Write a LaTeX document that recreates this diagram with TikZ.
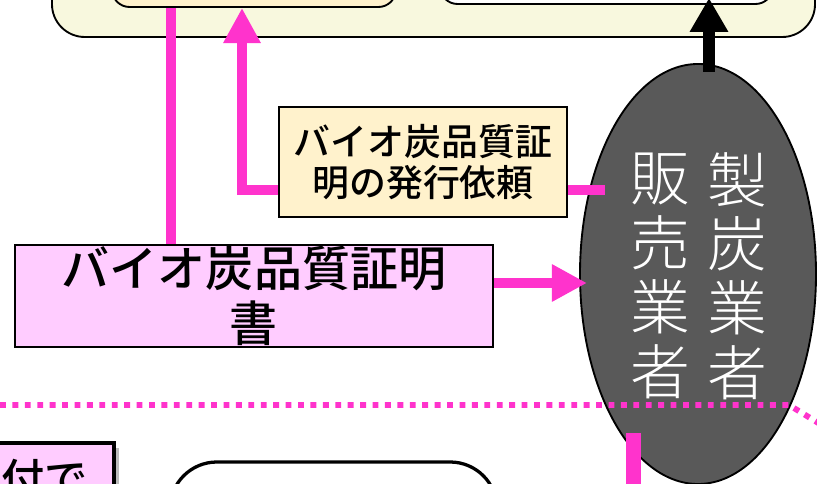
\documentclass[tikz,border=0pt]{standalone}
\usepackage{fontspec}
\setmainfont{Noto Sans CJK JP}
\IfFontExistsTF{Noto Sans CJK JP Medium}{\newfontfamily\medfont{Noto Sans CJK JP Medium}}{\newcommand\medfont{\bfseries}}
\IfFontExistsTF{Noto Sans CJK JP Light}{\newfontfamily\lightfont{Noto Sans CJK JP Light}}{\newcommand\lightfont{}}
\usetikzlibrary{arrows.meta,shapes.geometric,shadows}
\definecolor{pinkc}{RGB}{255,51,204}
\definecolor{cream}{RGB}{248,248,222}
\definecolor{lightorange}{RGB}{255,242,204}
\definecolor{lightpink}{RGB}{255,204,255}
\definecolor{ellgray}{RGB}{89,89,89}
\tikzset{
  pinkline/.style={draw=pinkc, line width=9pt},
  pinkarrow/.style={pinkline, -{Triangle[width=30pt,length=30pt]}},
  blkarrow/.style={draw=black, line width=10pt, -{Triangle[width=31pt,length=29pt]}},
  boxbase/.style={rectangle, draw=black, line width=1.6pt, inner sep=0pt},
  shadowed/.style={drop shadow={shadow xshift=4pt, shadow yshift=-4pt, fill=black!45, opacity=0.6}},
  coltext/.style={text=white, align=center, inner sep=0pt, font=\lightfont\fontsize{51pt}{55pt}\selectfont},
}
\begin{document}
\begin{tikzpicture}[x=0.03cm,y=-0.03cm]
\useasboundingbox (0,0) rectangle (817,484);
\clip (0,0) rectangle (817,484);
% top group
\node[boxbase, fill=cream, rounded corners=28pt, minimum width=22.89cm, minimum height=2.91cm] (outer) at (433.5,-11.5) {};
\node[boxbase, fill=lightorange, rounded corners=15pt, minimum width=8.52cm, minimum height=1.71cm] (inner1) at (254,-21.5) {};
\node[boxbase, fill=white, rounded corners=15pt, minimum width=9.99cm, minimum height=1.62cm] (inner2) at (606.5,-23) {};
% main ellipse
\node[ellipse, draw=black, line width=1.6pt, fill=ellgray, inner sep=0pt, minimum width=7.08cm, minimum height=12.6cm] (ell) at (698,274) {};
\node[coltext] (col1) at (737,276) {製\\炭\\業\\者};
\node[coltext] (col2) at (660,276) {販\\売\\業\\者};
% request box
\node[boxbase, fill=lightorange, line width=1.2pt, minimum width=8.64cm, minimum height=3.3cm, align=center,
      font=\medfont\fontsize{31.5pt}{35pt}\selectfont] (req) at (423,162) {バイオ炭品質証\\明の発行依頼};
% certificate box
\node[boxbase, fill=lightpink, line width=1.2pt, minimum width=14.34cm, minimum height=3.06cm, align=center,
      font=\medfont\fontsize{41pt}{47pt}\selectfont] (cert) at (254,296) {バイオ炭品質証明\\書};
% coordinates
\coordinate (cx) at (171,0);
\coordinate (ax) at (242,0);
\coordinate (ly) at (0,190);
\coordinate (rqend) at (605,190);
\coordinate (cy) at (0,283);
\coordinate (ctip) at (587,283);
\coordinate (bfoot) at (709,72);
\coordinate (btip) at (709,-2);
\coordinate (d1) at (0,405);
\coordinate (d2) at (789,405);
\coordinate (d3) at (820,424);
\coordinate (v1) at (633,433);
\coordinate (v2) at (633,490);
% connectors
\draw[pinkline] (inner1.south -| cx) -- (cert.north -| cx);
\draw[pinkarrow] (req.west |- ly) -| (ax |- inner1.south);
\draw[pinkline] (req.east |- ly) -- (rqend);
\draw[pinkarrow] (cert.east |- cy) -- (ctip);
\draw[blkarrow] (bfoot) -- (btip);
\draw[pinkc, line width=5pt, dash pattern=on 5pt off 5.6pt] (d1) -- (d2) -- (d3);
\draw[pinkc, line width=12.8pt] (v1) -- (v2);
% bottom partial boxes
\node[rectangle, draw=black, line width=3.4pt, fill=lightpink, shadowed, minimum width=4.02cm, minimum height=3.51cm] (note) at (47,501.5) {};
\node[inner sep=0pt, font=\medfont\fontsize{37pt}{40pt}\selectfont] (notetext) at (45,479) {付で};
\node[rectangle, draw=black, line width=2.8pt, fill=white, rounded corners=40pt, shadowed, minimum width=9.81cm, minimum height=4.14cm] (bottombox) at (333.5,531) {};
\end{tikzpicture}
\end{document}
